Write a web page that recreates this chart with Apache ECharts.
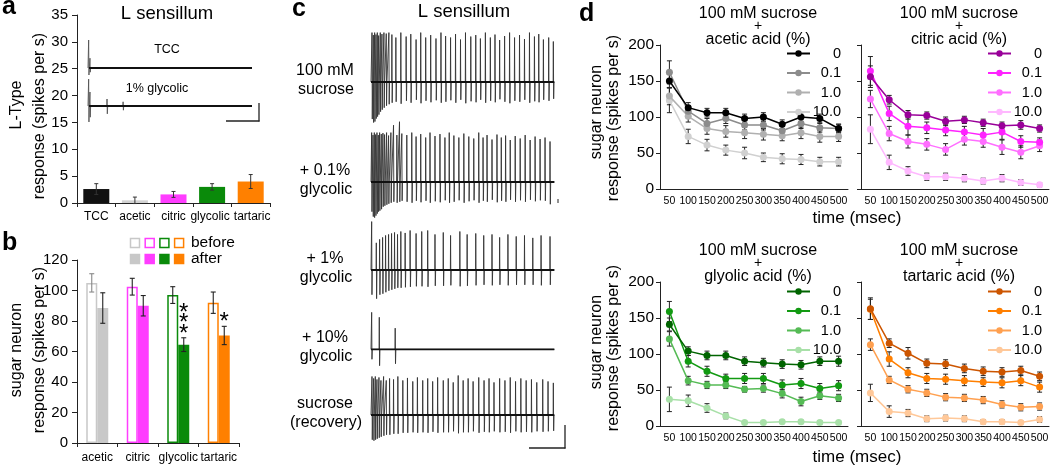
<!DOCTYPE html>
<html><head><meta charset="utf-8">
<script src="https://cdn.jsdelivr.net/npm/echarts@6/dist/echarts.min.js"></script>
<style>html,body{margin:0;padding:0;background:#fff}#c{width:1050px;height:466px}</style>
</head><body><div id="c"></div>
<script>
// ---------- DATA ----------
// panel a
const aCategories = ['TCC', 'acetic', 'citric', 'glycolic', 'tartaric'];
const aValues = [2.6, 0.5, 1.6, 3.0, 4.0];
const aErr = [1.0, 0.6, 0.55, 0.6, 1.3];
const aTicks = [0, 35, 5];
// panel a example traces: [time, up, down]
const aTraceTCC = [[2, 1.0, -0.25], [6, 0.35, -0.15]];
const aTraceGly = [[2, 0.96, -0.57], [6, 0.5, -0.4], [58, 0.25, -0.28], [107, 0.15, -0.15]];
// panel b
const bCategories = ['acetic', 'citric', 'glycolic', 'tartaric'];
const bBefore = [105, 102.5, 97, 92];
const bBeforeErr = [6, 5.5, 5.5, 7];
const bAfter = [88.5, 90, 64.5, 70.5];
const bAfterErr = [10, 6.7, 4.5, 6];
const bSigLabels = ['', '', '***', '*'];
const bSigLevel = [null, null, 82, 83];
const bTicks = [0, 120, 20];
// panel c spike trains: [time, up, down]
const cLabels = [['100 mM', 'sucrose'], ['+ 0.1%', 'glycolic'], ['+ 1%', 'glycolic'], ['+ 10%', 'glycolic'], ['sucrose', '(recovery)']];
const cSucrose = [[3,1.0,-0.75],[7,0.95,-0.82],[11,1.0,-0.8],[15,0.96,-0.74],[19,1.0,-0.7],[23,0.94,-0.66],[28,1.0,-0.6],[33,0.97,-0.56],[39,1.0,-0.52],[46,0.98,-0.48],[54,1.0,-0.45],
 [63,0.96,-0.42],[75,0.9,-0.4],[90,1.0,-0.44],[106,0.92,-0.38],[120,0.97,-0.42],[136,0.86,-0.36],[150,1.0,-0.43],[165,0.9,-0.38],[180,0.95,-0.41],[196,0.88,-0.37],[211,1.0,-0.42],[225,0.93,-0.4],[240,0.9,-0.37],[255,0.97,-0.42],[270,0.86,-0.36],[285,1.0,-0.43],[301,0.92,-0.39],[316,0.95,-0.41],[330,0.88,-0.36],[345,1.0,-0.42],[360,0.9,-0.38],[374,0.96,-0.41],[388,0.85,-0.35],[403,0.93,-0.4],[418,1.0,-0.43],[433,0.9,-0.38],[448,0.95,-0.4],[463,0.87,-0.36],[478,1.0,-0.42],[493,0.92,-0.39],[506,0.97,-0.41],[520,0.86,-0.36],[536,0.9,-0.38],[550,0.82,-0.34]];
const cGly01 = [[2,1.0,-0.6],[6,0.95,-0.7],[10,1.0,-0.72],[14,0.96,-0.68],[18,1.0,-0.64],[22,0.95,-0.6],[26,1.0,-0.58],[31,0.97,-0.55],[36,0.99,-0.5],[41,0.96,-0.48],[47,1.0,-0.46],[53,0.94,-0.44],[60,1.0,-0.42],[68,1.15,-0.4],[78,0.95,-0.42],[86,1.22,-0.4],[93,0.98,-0.38],
 [108,0.95,-0.4],[123,1.0,-0.42],[136,0.92,-0.38],[150,0.97,-0.41],[165,0.9,-0.38],[178,1.0,-0.42],[193,0.93,-0.39],[208,0.97,-0.41],[223,0.9,-0.37],[236,1.0,-0.42],[250,0.94,-0.4],[265,0.9,-0.37],[280,0.98,-0.42],[295,0.92,-0.39],[310,0.88,-0.37],[325,1.0,-0.42],[338,0.9,-0.38],[350,0.95,-0.4],[365,0.86,-0.36],[380,0.96,-0.41],[393,0.9,-0.38],[406,0.94,-0.4],[420,0.85,-0.36],[435,0.93,-0.4],[450,0.88,-0.37],[465,0.95,-0.4],[480,0.85,-0.36],[495,0.92,-0.39],[510,0.87,-0.37],[525,0.9,-0.38],[540,0.82,-0.45]];
const cGly1 = [[2,0.98,-0.5],[16,0.55,-0.58],[26,0.62,-0.5],[35,0.66,-0.48],[44,0.7,-0.45],[53,0.72,-0.42],[62,0.74,-0.4],[71,0.76,-0.38],[80,0.72,-0.36],[90,0.78,-0.36],[103,0.75,-0.35],[118,0.8,-0.34],[136,0.74,-0.33],[153,0.78,-0.33],[171,0.8,-0.34],[193,0.72,-0.32],[218,0.76,-0.32],[240,0.7,-0.31],[268,0.78,-0.33],[290,0.72,-0.32],[316,0.74,-0.31],[340,0.7,-0.3],[365,0.72,-0.31],[388,0.66,-0.3],[413,0.72,-0.31],[438,0.68,-0.3],[463,0.7,-0.3],[488,0.65,-0.3],[513,0.7,-0.31],[540,0.68,-0.3]];
const cGly10 = [[2,0.75,-0.2],[25,0.65,-0.33],[73,0.43,-0.29]];
const cRecovery = [[3,0.78,-0.5],[8,0.74,-0.52],[13,0.78,-0.5],[18,0.72,-0.48],[24,0.76,-0.46],[30,0.7,-0.44],[38,0.78,-0.42],[46,0.7,-0.4],[56,0.74,-0.4],[68,0.72,-0.38],[81,0.78,-0.38],[96,0.7,-0.36],[110,0.75,-0.36],[126,0.68,-0.35],[140,0.76,-0.36],[156,0.7,-0.35],[171,0.74,-0.36],[186,0.68,-0.34],[201,0.76,-0.36],[218,0.7,-0.35],[233,0.74,-0.35],[248,0.66,-0.33],[263,0.8,-0.37],[278,0.7,-0.35],[293,0.74,-0.35],[308,0.68,-0.33],[325,0.76,-0.36],[341,0.7,-0.34],[356,0.74,-0.35],[371,0.66,-0.33],[388,0.74,-0.35],[404,0.7,-0.34],[420,0.76,-0.36],[436,0.68,-0.33],[452,0.74,-0.35],[468,0.7,-0.34],[484,0.72,-0.35],[500,0.66,-0.33],[518,0.72,-0.34],[534,0.68,-0.33],[550,0.65,-0.32]];
// panel d
const dTimes = ['50','100','150','200','250','300','350','400','450','500'];
const dLevels = ['0', '0.1', '1.0', '10.0'];
const dTicks = [0, 200, 50];
const acetic0 = [150,113,106,106,98,100,90,100,98,84];
const acetic01 = [162,108,91,98,89,89,81,91,85,84];
const acetic1 = [129,101,84,80,78,76,74,78,73,73];
const acetic10 = [123,73,61,54,50,44,42,41,38,38];
const acetic0Err = [9,7,6,6,6,6,6,6,6,6];
const acetic01Err = [16,8,7,7,7,7,6,7,6,6];
const acetic1Err = [12,8,8,8,8,8,7,8,8,7];
const acetic10Err = [17,10,8,7,8,6,7,7,6,6];
const citric0 = [156,124,103,102,94,96,92,88,89,84];
const citric01 = [164,105,87,85,82,79,75,79,66,65];
const citric1 = [125,77,66,62,55,69,66,58,51,60];
const citric10 = [83,37,25,17,17,15,11,15,9,6];
const citric0Err = [15,6,6,5,6,5,5,5,6,5];
const citric01Err = [20,10,12,8,8,8,9,10,8,6];
const citric1Err = [12,10,9,8,8,8,8,10,9,8];
const citric10Err = [20,10,6,5,5,5,4,5,4,3];
const glycolic0 = [141,104,98,98,90,88,86,85,90,90];
const glycolic01 = [159,90,76,66,66,66,57,59,52,56];
const glycolic1 = [121,63,57,57,51,52,45,34,42,39];
const glycolic10 = [37,35,25,14,5,5,6,6,5,5];
const glycolic0Err = [9,6,6,6,6,6,6,6,6,7];
const glycolic01Err = [14,8,7,6,7,7,7,7,7,7];
const glycolic1Err = [10,6,5,5,4,5,6,6,5,5];
const glycolic10Err = [17,8,6,4,2,2,2,2,2,2];
const tartaric0 = [163,115,101,87,86,80,76,75,77,69];
const tartaric01 = [162,93,74,66,65,63,61,60,63,54];
const tartaric1 = [113,64,51,46,40,39,36,30,26,27];
const tartaric10 = [46,20,18,10,11,10,6,6,5,9];
const tartaric0Err = [15,6,8,6,6,6,6,6,6,6];
const tartaric01Err = [14,10,7,7,7,7,6,7,7,7];
const tartaric1Err = [8,5,5,5,5,5,5,5,5,5];
const tartaric10Err = [12,8,5,4,4,4,3,3,2,4];

// ---------- STYLE ----------
const FONT = "'Liberation Sans', Arial, Helvetica, sans-serif";
const aColors = ['#111111', '#d2d2d2', '#ff3dff', '#0a8a0a', '#ff8000'];
const bColors = ['#c8c8c8', '#ff3dff', '#0a8a0a', '#ff8000'];
const dColorSets = [
  ['#000000', '#8c8c8c', '#b0b0b0', '#d0d0d0'],
  ['#990099', '#ff22ff', '#ff6eff', '#ffb8ff'],
  ['#006400', '#129a12', '#55bb55', '#a8e0a8'],
  ['#cc5500', '#ff7f00', '#ffa050', '#ffc899']
];
const dPanels = [
  { name: 'acetic', title: 'acetic acid (%)', vals: [acetic0, acetic01, acetic1, acetic10], errs: [acetic0Err, acetic01Err, acetic1Err, acetic10Err], grid: { left: 660, top: 45 }, legend: { left: 786, top: 46 }, yLabels: true },
  { name: 'citric', title: 'citric acid (%)', vals: [citric0, citric01, citric1, citric10], errs: [citric0Err, citric01Err, citric1Err, citric10Err], grid: { left: 861, top: 45 }, legend: { left: 987, top: 46 }, yLabels: false },
  { name: 'glycolic', title: 'glyolic acid (%)', vals: [glycolic0, glycolic01, glycolic1, glycolic10], errs: [glycolic0Err, glycolic01Err, glycolic1Err, glycolic10Err], grid: { left: 660, top: 282 }, legend: { left: 786, top: 284 }, yLabels: true },
  { name: 'tartaric', title: 'tartaric acid (%)', vals: [tartaric0, tartaric01, tartaric1, tartaric10], errs: [tartaric0Err, tartaric01Err, tartaric1Err, tartaric10Err], grid: { left: 861, top: 282 }, legend: { left: 987, top: 284 }, yLabels: false }
];
const cRows = [cSucrose, cGly01, cGly1, cGly10, cRecovery];
const cRowTops = [32.6, 132.6, 220.6, 300, 365.6];

// ---------- HELPERS ----------
function spikeTrace(spikes, tEnd) {
  const pts = [[0, 0]];
  spikes.forEach(function (s) {
    pts.push([s[0] - 0.6, 0], [s[0], s[1]], [s[0] + 0.9, s[2]], [s[0] + 2.0, 0]);
  });
  pts.push([tEnd, 0]);
  return pts;
}
function errRender(offsetPx, capHalf, colorFn, lw) {
  return function (params, api) {
    const x = api.value(0), lo = api.value(1), hi = api.value(2);
    const pHi = api.coord([x, hi]);
    const pLo = api.coord([x, lo]);
    const cx = pHi[0] + offsetPx;
    const style = { stroke: colorFn(params.dataIndex), lineWidth: lw };
    return { type: 'group', children: [
      { type: 'line', shape: { x1: cx, y1: pHi[1], x2: cx, y2: pLo[1] }, style: style },
      { type: 'line', shape: { x1: cx - capHalf, y1: pHi[1], x2: cx + capHalf, y2: pHi[1] }, style: style },
      { type: 'line', shape: { x1: cx - capHalf, y1: pLo[1], x2: cx + capHalf, y2: pLo[1] }, style: style }
    ] };
  };
}
function txt(text, x, y, size, opt) {
  opt = opt || {};
  return { type: 'text', x: x, y: y, rotation: opt.rot || 0, z: 50,
    style: { text: text, fontSize: size, fontFamily: FONT, fontWeight: opt.bold ? 'bold' : 'normal', fill: '#000',
      textAlign: opt.align || 'center', textVerticalAlign: 'middle', verticalAlign: 'middle', align: opt.align || 'center' } };
}
function seg(x1, y1, x2, y2, w, c) {
  return { type: 'line', z: 50, shape: { x1: x1, y1: y1, x2: x2, y2: y2 }, style: { stroke: c || '#222', lineWidth: w || 1.2 } };
}
const axisLineStyle = { show: true, lineStyle: { color: '#222', width: 1 } };
// small label nudges so adjacent category names do not touch
const catRich = {
  n: { fontSize: 12, fontFamily: FONT, color: '#000' },
  l: { fontSize: 12, fontFamily: FONT, color: '#000', padding: [0, 4, 0, 0] },
  r: { fontSize: 12, fontFamily: FONT, color: '#000', padding: [0, 0, 0, 3] }
};
function catFmt(v) { return v === 'glycolic' ? '{l|' + v + '}' : v === 'tartaric' ? '{r|' + v + '}' : '{n|' + v + '}'; }

// ---------- BUILD ----------
const grids = [], xAxes = [], yAxes = [], series = [], legends = [], graphics = [];
function addGrid(g) { g.outerBoundsMode = 'none'; g.containLabel = false; grids.push(g); return grids.length - 1; }
function hiddenAxes(gi, xmax, ymin, ymax) {
  xAxes.push({ gridIndex: gi, type: 'value', min: 0, max: xmax, show: false });
  yAxes.push({ gridIndex: gi, type: 'value', min: ymin, max: ymax, show: false });
}

// panel a bars (index 0)
const gA = addGrid({ left: 77, top: 15, width: 193, height: 188 });
xAxes.push({ gridIndex: gA, type: 'category', data: aCategories, axisLine: axisLineStyle,
  axisTick: { show: true, length: 4, lineStyle: { color: '#222' } },
  axisLabel: { fontSize: 12, fontFamily: FONT, color: '#000', margin: 8, interval: 0, formatter: catFmt, rich: catRich } });
yAxes.push({ gridIndex: gA, type: 'value', min: aTicks[0], max: aTicks[1], interval: aTicks[2], splitLine: { show: false },
  axisLine: axisLineStyle, axisTick: { show: true, length: 5, lineStyle: { color: '#222' } },
  axisLabel: { fontSize: 15, fontFamily: FONT, color: '#000', margin: 9 } });
series.push({ type: 'bar', xAxisIndex: 0, yAxisIndex: 0, barWidth: 26,
  data: aValues.map(function (v, i) { return { value: v, itemStyle: { color: aColors[i] } }; }) });
series.push({ type: 'custom', xAxisIndex: 0, yAxisIndex: 0, z: 5,
  renderItem: errRender(0, 2, function () { return '#333'; }, 1),
  encode: { x: 0, y: [1, 2] },
  data: aValues.map(function (v, i) { return [i, v - aErr[i], v + aErr[i]]; }) });

// panel a traces (1, 2)
[[aTraceTCC, 40], [aTraceGly, 78]].forEach(function (tr) {
  const gi = addGrid({ left: 88, top: tr[1], width: 164, height: 56 });
  hiddenAxes(gi, 500, -1, 1);
  series.push({ type: 'line', xAxisIndex: gi, yAxisIndex: gi, showSymbol: false, symbol: 'none', clip: false, silent: true,
    lineStyle: { color: '#555', width: 0.9 }, data: spikeTrace(tr[0], 500) });
  series.push({ type: 'line', xAxisIndex: gi, yAxisIndex: gi, symbol: 'none', clip: false, silent: true,
    lineStyle: { color: '#111', width: 2 }, data: [[3, 0], [500, 0]] });
});

// panel b (3)
const gB = addGrid({ left: 77, top: 260, width: 162, height: 183 });
xAxes.push({ gridIndex: gB, type: 'category', data: bCategories, axisLine: axisLineStyle,
  axisTick: { show: true, length: 4, lineStyle: { color: '#222' } },
  axisLabel: { fontSize: 12, fontFamily: FONT, color: '#000', margin: 9, interval: 0 } });
yAxes.push({ gridIndex: gB, type: 'value', min: bTicks[0], max: bTicks[1], interval: bTicks[2], splitLine: { show: false },
  axisLine: axisLineStyle, axisTick: { show: true, length: 5, lineStyle: { color: '#222' } },
  axisLabel: { fontSize: 15, fontFamily: FONT, color: '#000', margin: 9 } });
series.push({ type: 'bar', name: 'before', xAxisIndex: gB, yAxisIndex: gB, barWidth: 11, barGap: '0%',
  data: bBefore.map(function (v, i) { return { value: v, itemStyle: { color: '#fff', borderColor: bColors[i], borderWidth: 1.5 } }; }) });
series.push({ type: 'bar', name: 'after', xAxisIndex: gB, yAxisIndex: gB, barWidth: 11, barGap: '0%',
  data: bAfter.map(function (v, i) { return { value: v, itemStyle: { color: bColors[i] } }; }) });
series.push({ type: 'custom', xAxisIndex: gB, yAxisIndex: gB, z: 5, encode: { x: 0, y: [1, 2] },
  renderItem: errRender(-5.5, 2.5, function (i) { return i === 0 ? '#888' : '#222'; }, 1.1),
  data: bBefore.map(function (v, i) { return [i, v - bBeforeErr[i], v + bBeforeErr[i]]; }) });
series.push({ type: 'custom', xAxisIndex: gB, yAxisIndex: gB, z: 5, encode: { x: 0, y: [1, 2] },
  renderItem: errRender(5.5, 2.5, function () { return '#222'; }, 1.1),
  data: bAfter.map(function (v, i) { return [i, v - bAfterErr[i], v + bAfterErr[i]]; }) });
// significance stars (stacked vertically above the "after" bars)
series.push({ type: 'custom', xAxisIndex: gB, yAxisIndex: gB, z: 6, silent: true, encode: { x: 0, y: 1 },
  data: bSigLevel.map(function (v, i) { return v === null ? null : [i, v]; }).filter(Boolean),
  renderItem: function (params, api) {
    const i = api.value(0);
    const p = api.coord([i, api.value(1)]);
    const stars = bSigLabels[i].split('');
    const n = stars.length;
    return { type: 'group', children: stars.map(function (s, k) {
      return { type: 'text', x: p[0] + 5.5, y: p[1] + (k - (n - 1) / 2) * 10.5 + 5.5,
        style: { text: s, fontSize: 24, fontFamily: FONT, fill: '#000', textAlign: 'center', textVerticalAlign: 'middle', align: 'center', verticalAlign: 'middle' } };
    }) };
  } });

// panel c (4..8)
cRows.forEach(function (row, k) {
  const gi = addGrid({ left: 371, top: cRowTops[k], width: 184, height: 84 });
  hiddenAxes(gi, 555, -0.7, 1);
  series.push({ type: 'line', xAxisIndex: gi, yAxisIndex: gi, symbol: 'none', clip: false, silent: true,
    lineStyle: { color: '#333', width: 0.9 }, data: spikeTrace(row, 553) });
  series.push({ type: 'line', xAxisIndex: gi, yAxisIndex: gi, symbol: 'none', clip: false, silent: true,
    lineStyle: { color: '#111', width: 1.8 }, data: [[0, 0], [553, 0]] });
  graphics.push(txt(cLabels[k][0], 325, cRowTops[k] + 37.5, 16));
  graphics.push(txt(cLabels[k][1], 326, cRowTops[k] + 57, 16));
});

// panel d (9..12)
dPanels.forEach(function (p, k) {
  const gi = addGrid({ left: p.grid.left, top: p.grid.top, width: 188, height: 144 });
  xAxes.push({ gridIndex: gi, type: 'category', data: dTimes, boundaryGap: true, axisLine: axisLineStyle,
    axisTick: { show: false }, axisLabel: { fontSize: 10.5, fontFamily: FONT, color: '#000', margin: 7, interval: 0 } });
  yAxes.push({ gridIndex: gi, type: 'value', min: dTicks[0], max: dTicks[1], interval: dTicks[2], splitLine: { show: false },
    axisLine: axisLineStyle, axisTick: { show: true, length: 4, lineStyle: { color: '#222' } },
    axisLabel: { show: p.yLabels, fontSize: 15.5, fontFamily: FONT, color: '#000', margin: 6 } });
  const names = [];
  const errData = [];
  p.vals.forEach(function (vals, j) {
    const nm = p.name + ' ' + dLevels[j];
    names.push(nm);
    series.push({ type: 'line', name: nm, xAxisIndex: gi, yAxisIndex: gi, symbol: 'circle', symbolSize: 7, z: 3 + (3 - j) * 0.1,
      itemStyle: { color: dColorSets[k][j] }, lineStyle: { color: dColorSets[k][j], width: 1.5 }, data: vals });
    vals.forEach(function (v, i) { errData.push([i, v - p.errs[j][i], v + p.errs[j][i]]); });
  });
  series.push({ type: 'custom', xAxisIndex: gi, yAxisIndex: gi, z: 2, encode: { x: 0, y: [1, 2] }, silent: true,
    renderItem: errRender(0, 2.5, function () { return '#222'; }, 1), data: errData });
  legends.push({ orient: 'vertical', left: p.legend.left, top: p.legend.top, itemWidth: 23, itemHeight: 8, itemGap: 4.5,
    selectedMode: false, data: names, padding: 0,
    formatter: function (name) { return '{v|' + name.split(' ')[1] + '}'; },
    textStyle: { fontSize: 14, fontFamily: FONT, color: '#000', padding: [0, 0, 0, 1],
      rich: { v: { width: 25, align: 'right', fontSize: 14.5, fontFamily: FONT, lineHeight: 12 } } } });
  const cx = p.grid.left + 98;
  graphics.push(txt('100 mM sucrose', cx, p.grid.top - 31, 16));
  graphics.push(txt('+', cx, p.grid.top - 18.5, 14));
  graphics.push(txt(p.title, cx, p.grid.top - 5.5, 16));
});

// ---------- TEXT & DECORATIONS ----------
graphics.push(txt('a', 2, 7, 25, { bold: true, align: 'left' }));
graphics.push(txt('b', 2, 243, 25, { bold: true, align: 'left' }));
graphics.push(txt('c', 292, 9, 25, { bold: true, align: 'left' }));
graphics.push(txt('d', 579, 14, 25, { bold: true, align: 'left' }));
graphics.push(txt('L sensillum', 167, 14, 18.5));
graphics.push(txt('L sensillum', 464, 12, 18.5));
graphics.push(txt('TCC', 167, 50, 12.5));
graphics.push(txt('1% glycolic', 157, 89, 12.5));
graphics.push(txt('L-Type', 17, 105, 16, { rot: Math.PI / 2 }));
graphics.push(txt('response (spikes per s)', 40, 116, 16, { rot: Math.PI / 2 }));
graphics.push(txt('sugar neuron', 17, 350, 16, { rot: Math.PI / 2 }));
graphics.push(txt('response (spikes per s)', 40, 350, 16, { rot: Math.PI / 2 }));
graphics.push(txt('sugar neuron', 597, 112, 16, { rot: Math.PI / 2 }));
graphics.push(txt('response (spikes per s)', 614, 118, 16, { rot: Math.PI / 2 }));
graphics.push(txt('sugar neuron', 597, 342, 16, { rot: Math.PI / 2 }));
graphics.push(txt('response (spikes per s)', 614, 348, 16, { rot: Math.PI / 2 }));
graphics.push(txt('time (msec)', 857, 218, 17));
graphics.push(txt('time (msec)', 857, 457, 17));
// panel b legend (colour keys)
bColors.forEach(function (c, i) {
  const x = 135 + i * 14.7;
  graphics.push({ type: 'rect', z: 50, shape: { x: x - 4.5, y: 238.5, width: 9, height: 9 }, style: { fill: '#fff', stroke: c, lineWidth: 1.5 } });
  graphics.push({ type: 'rect', z: 50, shape: { x: x - 5.25, y: 253.75, width: 10.5, height: 10.5 }, style: { fill: c } });
});
graphics.push(txt('before', 191, 243, 15.5, { align: 'left' }));
graphics.push(txt('after', 191, 259, 15.5, { align: 'left' }));
// scale bars
graphics.push(seg(226, 121, 259.5, 121, 1.3));
graphics.push(seg(259, 103, 259, 121.5, 1.3));
graphics.push(seg(529, 448, 565.5, 448, 1.3));
graphics.push(seg(565, 425, 565, 448.5, 1.3));
graphics.push(seg(558, 199, 558, 203, 1));

const chart = echarts.init(document.getElementById('c'), null, { renderer: 'canvas' });
chart.setOption({
  animation: false,
  backgroundColor: '#fff',
  textStyle: { fontFamily: FONT },
  grid: grids, xAxis: xAxes, yAxis: yAxes, legend: legends, series: series,
  graphic: { elements: graphics }
});
</script></body></html>
